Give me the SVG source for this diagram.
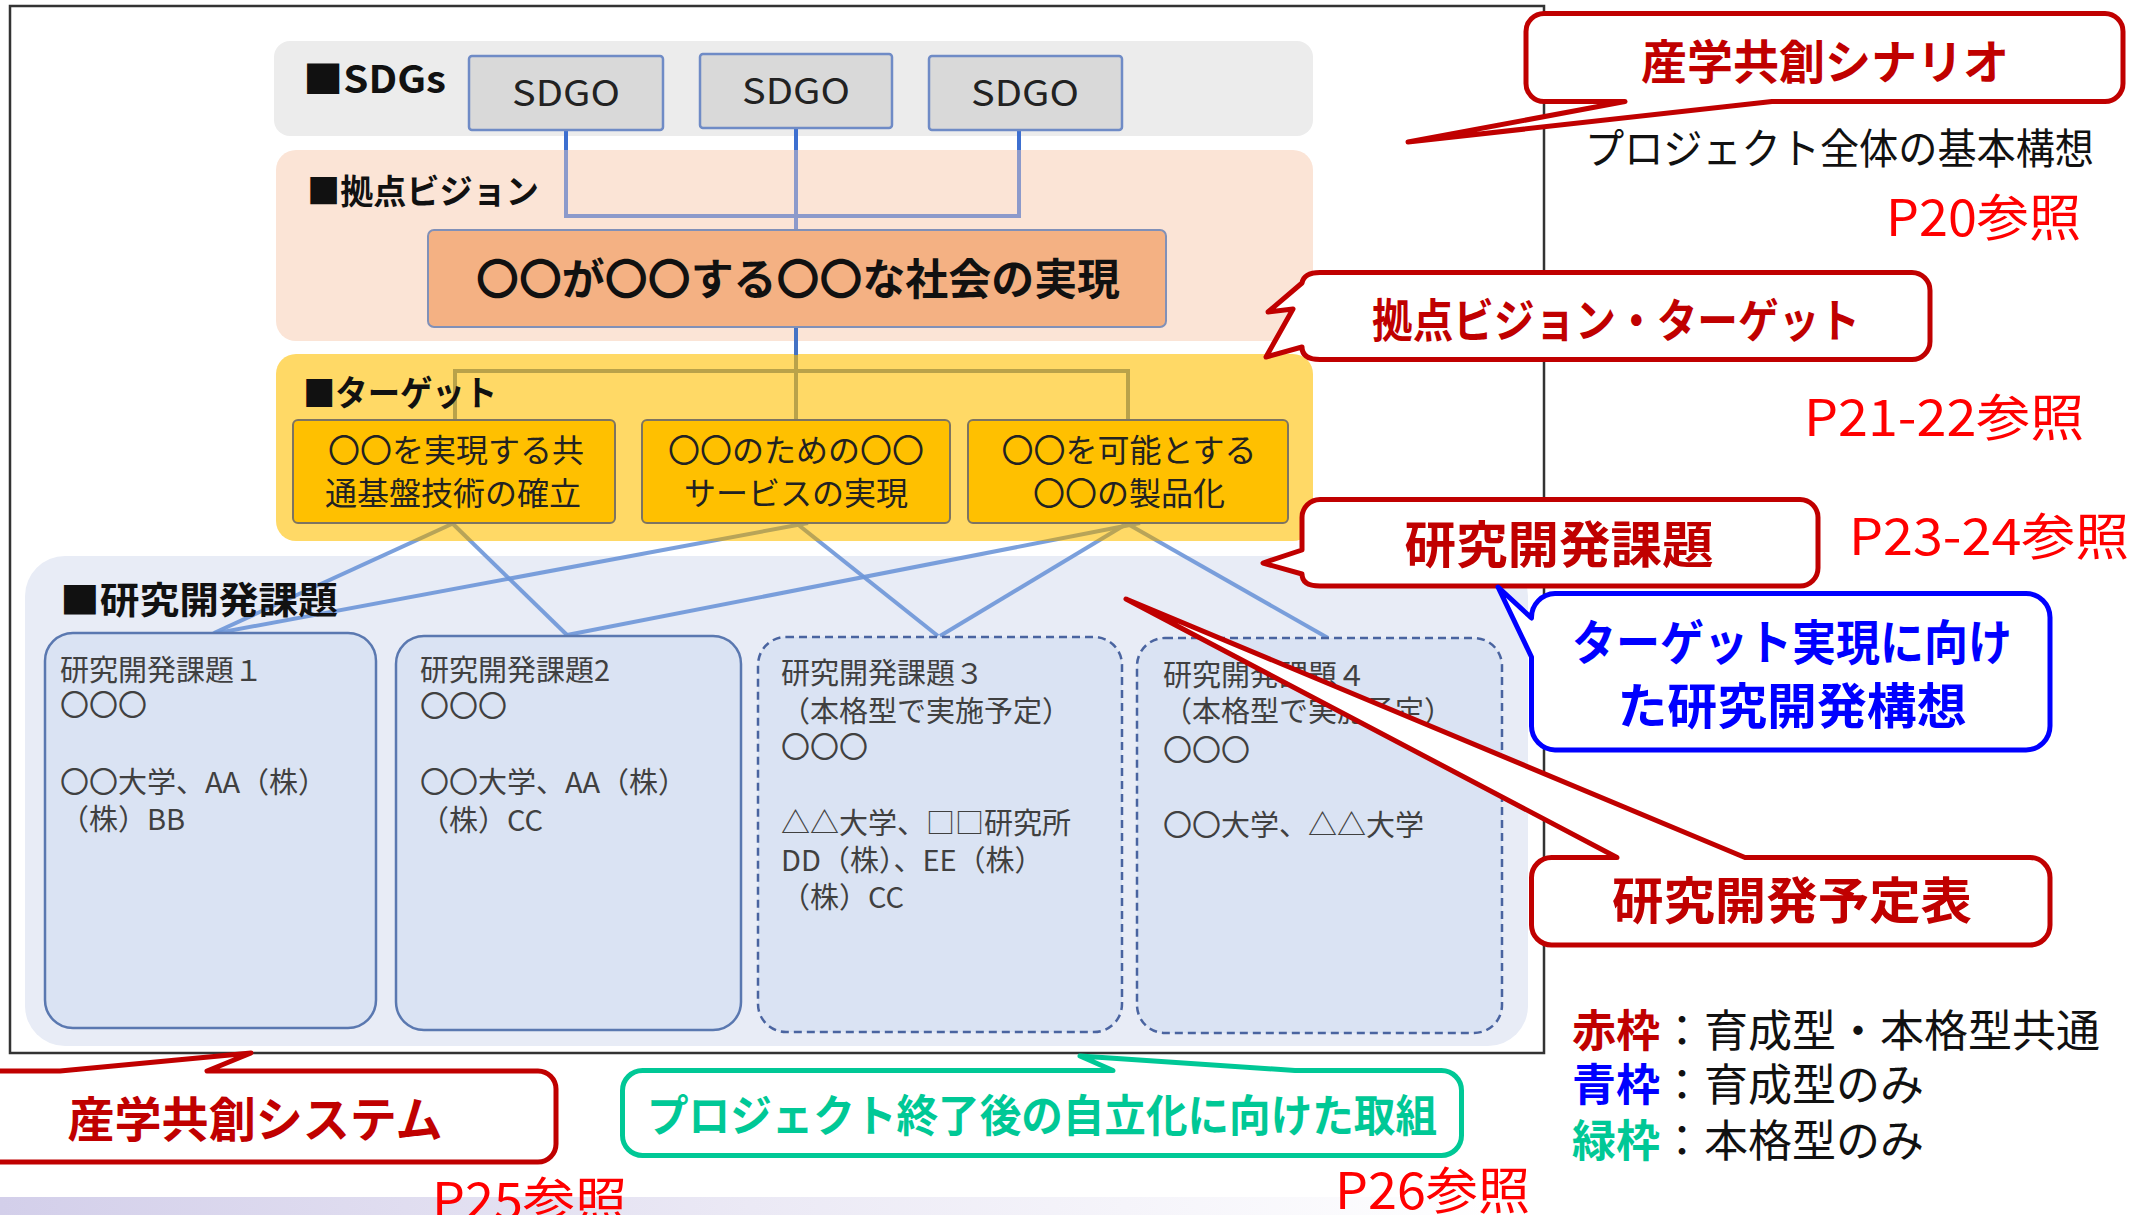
<svg xmlns="http://www.w3.org/2000/svg" xmlns:xlink="http://www.w3.org/1999/xlink" width="2136" height="1215" viewBox="0 0 2136 1215">
<defs>
<style>
text { font-family: 'Noto Sans CJK JP','Noto Sans CJK SC',sans-serif; }
.b { font-weight: 700; }
.lbl { font-weight: 700; fill: #111; }
.sdg { font-size: 36px; fill: #222; text-anchor: middle; }
.tg { font-size: 32px; fill: #222; text-anchor: middle; }
.rt { font-size: 29px; fill: #404040; }
.ref { font-size: 50px; fill: #ff0000; }
.cr { font-weight: 700; fill: #c00000; text-anchor: middle; }
.cb { font-weight: 700; fill: #0000ff; text-anchor: middle; }
.cg { font-weight: 700; fill: #00c896; text-anchor: middle; }
.lg { font-size: 44px; fill: #111; }
.cored { fill: #fff; stroke: #c00000; stroke-width: 5; stroke-linejoin: round; }
.coblue { fill: #fff; stroke: #0000ff; stroke-width: 5; stroke-linejoin: round; }
.cogreen { fill: #fff; stroke: #00c896; stroke-width: 5; stroke-linejoin: round; }
.sdgbox { fill: #d9d9d9; stroke: #6f8bc6; stroke-width: 2.5; }
.tbox { fill: #ffc000; stroke: #7d7461; stroke-width: 2; }
.rbox { fill: #dae3f3; stroke: #5a78b0; stroke-width: 2.5; }
.rboxd { fill: #dae3f3; stroke: #4a64a0; stroke-width: 2.5; stroke-dasharray: 8 5; }
</style>
<linearGradient id="strip" x1="0" y1="0" x2="1" y2="0">
<stop offset="0" stop-color="#d3cfea"/>
<stop offset="0.5" stop-color="#ebe9f5"/>
<stop offset="1" stop-color="#ffffff"/>
</linearGradient>
<clipPath id="upper"><rect x="0" y="0" width="2136" height="541"/></clipPath>
<clipPath id="lower"><rect x="0" y="541" width="2136" height="700"/></clipPath>
<g id="rlines">
<line x1="454" y1="523" x2="214" y2="633"/>
<line x1="452" y1="523" x2="567" y2="635"/>
<line x1="808" y1="523" x2="212" y2="634"/>
<line x1="796" y1="523" x2="938" y2="636"/>
<line x1="1140" y1="523" x2="567" y2="635"/>
<line x1="1128" y1="523" x2="940" y2="636"/>
<line x1="1126" y1="523" x2="1328" y2="638"/>
</g>
</defs>

<rect width="2136" height="1215" fill="#ffffff"/>
<rect x="0" y="1197" width="1500" height="18" fill="url(#strip)"/>

<!-- outer frame -->
<rect id="frame" x="10" y="6" width="1534" height="1047" fill="#ffffff" stroke="#333333" stroke-width="2.5"/>

<!-- bands -->
<g id="bands">
<rect x="274" y="41" width="1039" height="95" rx="16" fill="#ececec"/>
<rect x="276" y="150" width="1037" height="191" rx="20" fill="#fbe4d6"/>
<rect x="276" y="354" width="1037" height="187" rx="20" fill="#ffd966"/>
<rect x="25" y="556" width="1503" height="490" rx="40" fill="#e8ecf6"/>
</g>

<!-- connectors -->
<g id="connectors" stroke-width="4" fill="none">
<path d="M566,131 V216 H1019 V131" stroke="#8c9acb"/>
<line x1="796" y1="129" x2="796" y2="230" stroke="#8c9acb"/>
<line x1="566" y1="131" x2="566" y2="150" stroke="#3d6fd0"/>
<line x1="796" y1="129" x2="796" y2="150" stroke="#3d6fd0"/>
<line x1="1019" y1="131" x2="1019" y2="150" stroke="#3d6fd0"/>
<line x1="796" y1="327" x2="796" y2="355" stroke="#4472c4"/>
<path d="M796,355 V420 M455,420 V371 H1128 V420" stroke="#b9a24a"/>
<use xlink:href="#rlines" stroke="#b8a458" clip-path="url(#upper)"/>
<use xlink:href="#rlines" stroke="#6d96d8" stroke-opacity="0.9" clip-path="url(#lower)"/>
</g>

<!-- SDGs -->
<g id="sdgs">
<text class="lbl" x="303" y="93" font-size="38" textLength="143" lengthAdjust="spacingAndGlyphs">■SDGs</text>
<g id="sdg1"><rect class="sdgbox" x="469" y="56" width="194" height="74" rx="3"/><text class="sdg" x="566" y="106" textLength="108" lengthAdjust="spacingAndGlyphs">SDGO</text></g>
<g id="sdg2"><rect class="sdgbox" x="700" y="54" width="192" height="74" rx="3"/><text class="sdg" x="796" y="104" textLength="108" lengthAdjust="spacingAndGlyphs">SDGO</text></g>
<g id="sdg3"><rect class="sdgbox" x="929" y="56" width="193" height="74" rx="3"/><text class="sdg" x="1025" y="106" textLength="108" lengthAdjust="spacingAndGlyphs">SDGO</text></g>
</g>

<!-- vision -->
<g id="vision">
<text class="lbl" x="307" y="204" font-size="34" textLength="232" lengthAdjust="spacingAndGlyphs">■拠点ビジョン</text>
<rect x="428" y="230" width="738" height="97" rx="6" fill="#f4b183" stroke="#8090b8" stroke-width="2"/>
<text class="b" x="798" y="295" font-size="43" fill="#111" text-anchor="middle" textLength="644" lengthAdjust="spacingAndGlyphs">〇〇が〇〇する〇〇な社会の実現</text>
</g>

<!-- targets -->
<g id="targets">
<text class="lbl" x="303" y="406" font-size="35" textLength="194" lengthAdjust="spacingAndGlyphs">■ターゲット</text>
<g id="target1"><rect class="tbox" x="293" y="420" width="322" height="103" rx="5"/>
<text class="tg" x="456" y="462">〇〇を実現する共</text><text class="tg" x="453" y="505">通基盤技術の確立</text></g>
<g id="target2"><rect class="tbox" x="642" y="420" width="308" height="103" rx="5"/>
<text class="tg" x="796" y="462">〇〇のための〇〇</text><text class="tg" x="796" y="505">サービスの実現</text></g>
<g id="target3"><rect class="tbox" x="968" y="420" width="320" height="103" rx="5"/>
<text class="tg" x="1129" y="462">〇〇を可能とする</text><text class="tg" x="1129" y="505">〇〇の製品化</text></g>
</g>

<!-- research -->
<g id="research">
<text class="lbl" x="60" y="614" font-size="37" textLength="278" lengthAdjust="spacingAndGlyphs">■研究開発課題</text>
<g id="rd1"><rect class="rbox" x="45" y="633" width="331" height="395" rx="28"/>
<text class="rt" x="60" y="681">研究開発課題１</text>
<text class="rt" x="60" y="716">〇〇〇</text>
<text class="rt" x="60" y="793">〇〇大学、AA（株）</text>
<text class="rt" x="60" y="830">（株）BB</text></g>
<g id="rd2"><rect class="rbox" x="396" y="636" width="345" height="394" rx="28"/>
<text class="rt" x="420" y="681">研究開発課題2</text>
<text class="rt" x="420" y="717">〇〇〇</text>
<text class="rt" x="420" y="793">〇〇大学、AA（株）</text>
<text class="rt" x="420" y="831">（株）CC</text></g>
<g id="rd3"><rect class="rboxd" x="758" y="637" width="364" height="395" rx="28"/>
<text class="rt" x="781" y="684">研究開発課題３</text>
<text class="rt" x="781" y="722">（本格型で実施予定）</text>
<text class="rt" x="781" y="758">〇〇〇</text>
<text class="rt" x="781" y="834">△△大学、□□研究所</text>
<text class="rt" x="781" y="871">DD（株）、EE（株）</text>
<text class="rt" x="781" y="908">（株）CC</text></g>
<g id="rd4"><rect class="rboxd" x="1137" y="638" width="365" height="395" rx="28"/>
<text class="rt" x="1163" y="686">研究開発課題４</text>
<text class="rt" x="1163" y="722">（本格型で実施予定）</text>
<text class="rt" x="1163" y="761">〇〇〇</text>
<text class="rt" x="1163" y="836">〇〇大学、△△大学</text></g>
</g>

<!-- right side callouts -->
<g id="callout-scenario">
<path class="cored" d="M1544,13.5 H2105 A18,18 0 0 1 2123,31.5 V83.5 A18,18 0 0 1 2105,101.5 H1772 L1408,142 L1625,101.5 H1544 A18,18 0 0 1 1526,83.5 V31.5 A18,18 0 0 1 1544,13.5 Z"/>
<text class="cr" x="1825" y="79" font-size="47" textLength="368" lengthAdjust="spacingAndGlyphs">産学共創シナリオ</text>
</g>
<text x="1585" y="164" font-size="42" fill="#111" textLength="509" lengthAdjust="spacingAndGlyphs">プロジェクト全体の基本構想</text>
<text class="ref" x="1886" y="236" textLength="195" lengthAdjust="spacingAndGlyphs">P20参照</text>

<g id="callout-vision">
<path class="cored" d="M1320,272.5 H1912 A18,18 0 0 1 1930,290.5 V341.5 A18,18 0 0 1 1912,359.5 H1320 Q1302,359.5 1302,347 L1266,357 L1293,309 L1268,312 L1302,283 Q1304,272.5 1320,272.5 Z"/>
<text class="cr" x="1616" y="337" font-size="46" textLength="488" lengthAdjust="spacingAndGlyphs">拠点ビジョン・ターゲット</text>
</g>
<text class="ref" x="1804" y="436" textLength="280" lengthAdjust="spacingAndGlyphs">P21-22参照</text>

<g id="callout-research">
<path class="cored" d="M1320,499.5 H1800 A18,18 0 0 1 1818,517.5 V568 A18,18 0 0 1 1800,586 H1320 Q1302,586 1302,574 L1263,563 L1302,550 V517.5 A18,18 0 0 1 1320,499.5 Z"/>
<text class="cr" x="1559" y="563" font-size="50" textLength="309" lengthAdjust="spacingAndGlyphs">研究開発課題</text>
</g>
<text class="ref" x="1849" y="555" textLength="280" lengthAdjust="spacingAndGlyphs">P23-24参照</text>

<g id="callout-concept">
<path class="coblue" d="M1555,593.5 H2026 A24,24 0 0 1 2050,617.5 V726 A24,24 0 0 1 2026,750 H1555 A24,24 0 0 1 1531.5,726 V657 L1498,587 L1531.5,618 A24,24 0 0 1 1555,593.5 Z"/>
<text class="cb" x="1792" y="660" font-size="48" textLength="440" lengthAdjust="spacingAndGlyphs">ターゲット実現に向け</text>
<text class="cb" x="1792" y="724" font-size="49" textLength="349" lengthAdjust="spacingAndGlyphs">た研究開発構想</text>
</g>

<g id="callout-schedule">
<path class="cored" d="M1551.5,857.5 H1617 L1126,599 L1745,857.5 H2030 A20,20 0 0 1 2050,877.5 V925 A20,20 0 0 1 2030,945 H1551.5 A20,20 0 0 1 1531.5,925 V877.5 A20,20 0 0 1 1551.5,857.5 Z"/>
<text class="cr" x="1792" y="919" font-size="50" textLength="360" lengthAdjust="spacingAndGlyphs">研究開発予定表</text>
</g>

<g id="legend">
<text class="lg" x="1572" y="1047"><tspan class="b" fill="#c00000">赤枠</tspan>：育成型・本格型共通</text>
<text class="lg" x="1572" y="1101"><tspan class="b" fill="#0000ff">青枠</tspan>：育成型のみ</text>
<text class="lg" x="1572" y="1157"><tspan class="b" fill="#00c896">緑枠</tspan>：本格型のみ</text>
</g>

<!-- bottom callouts -->
<g id="callout-system">
<path class="cored" d="M-10,1071 H60 L251,1053 L207,1071 H538 A18,18 0 0 1 556,1089 V1144 A18,18 0 0 1 538,1162 H-10 Z"/>
<text class="cr" x="255" y="1137" font-size="48" textLength="375" lengthAdjust="spacingAndGlyphs">産学共創システム</text>
</g>
<text class="ref" x="432" y="1219" textLength="195" lengthAdjust="spacingAndGlyphs">P25参照</text>

<g id="callout-independence">
<path class="cogreen" d="M642.5,1070.5 H1113 L1080,1056 L1295,1070.5 H1441.5 A20,20 0 0 1 1461.5,1090.5 V1135.5 A20,20 0 0 1 1441.5,1155.5 H642.5 A20,20 0 0 1 622.5,1135.5 V1090.5 A20,20 0 0 1 642.5,1070.5 Z"/>
<text class="cg" x="1042" y="1132" font-size="44" textLength="790" lengthAdjust="spacingAndGlyphs">プロジェクト終了後の自立化に向けた取組</text>
</g>
<text class="ref" x="1335" y="1209" textLength="195" lengthAdjust="spacingAndGlyphs">P26参照</text>
</svg>
